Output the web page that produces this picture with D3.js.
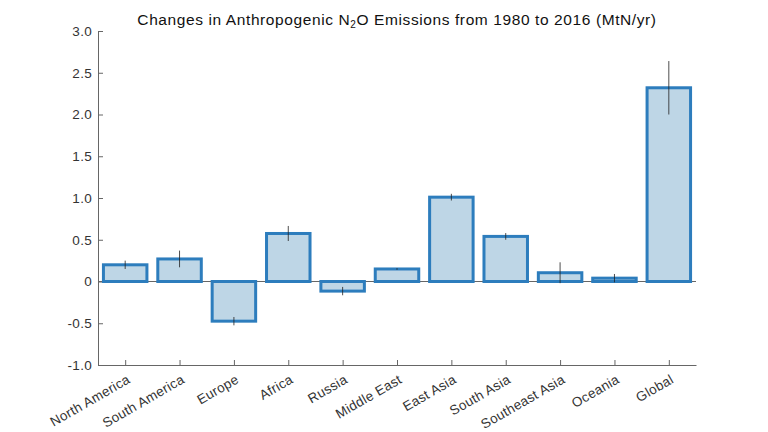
<!DOCTYPE html>
<html>
<head>
<meta charset="utf-8">
<script src="https://cdn.jsdelivr.net/npm/d3@7"></script>
<style>
  body { margin: 0; background: #fff; }
  text { font-family: "Liberation Sans", Arial, sans-serif; }
</style>
</head>
<body>
<svg id="chart" width="768" height="432"></svg>
<script>
const regions = ["North America", "South America", "Europe", "Africa", "Russia", "Middle East",
  "East Asia", "South Asia", "Southeast Asia", "Oceania", "Global"];
const changes = [0.2, 0.27, -0.475, 0.575, -0.115, 0.15, 1.01, 0.54, 0.105, 0.04, 2.32];
const errors = [0.05, 0.1, 0.05, 0.09, 0.05, 0.01, 0.04, 0.04, 0.125, 0.05, 0.32];
const yTicks = [-1.0, -0.5, 0, 0.5, 1.0, 1.5, 2.0, 2.5, 3.0];

const svg = d3.select("#chart");
const plotLeft = 98, plotRight = 696, plotTop = 31, plotBottom = 365;

const x = d3.scaleLinear().domain([0.5, regions.length + 0.5]).range([plotLeft, plotRight]);
const y = d3.scaleLinear().domain([-1, 3]).range([plotBottom, plotTop]);
const step = x(2) - x(1);
const barW = step * 0.8;

const axisColor = "#666";

// y axis
const yAxis = svg.append("g")
  .attr("transform", `translate(${plotLeft},0)`)
  .call(d3.axisLeft(y).tickValues(yTicks)
    .tickFormat((d) => (d === 0 ? "0" : d.toFixed(1)))
    .tickSizeInner(-5).tickSizeOuter(0).tickPadding(6));
yAxis.select(".domain").attr("stroke", axisColor);
yAxis.selectAll(".tick line").attr("stroke", axisColor);
yAxis.selectAll("text").attr("font-size", 13.5).attr("letter-spacing", 0.3).attr("fill", "#333");

// x axis
const xAxis = svg.append("g")
  .attr("transform", `translate(0,${plotBottom})`)
  .call(d3.axisBottom(x).tickValues(d3.range(1, regions.length + 1))
    .tickFormat((d) => regions[d - 1])
    .tickSizeInner(-5).tickSizeOuter(0));
xAxis.select(".domain").attr("stroke", axisColor);
xAxis.selectAll(".tick line").attr("stroke", axisColor);
xAxis.selectAll("text")
  .attr("font-size", 13.5).attr("letter-spacing", 0.3).attr("fill", "#333")
  .attr("text-anchor", "end")
  .attr("x", 0).attr("y", 0)
  .attr("dy", "0.35em")
  .attr("transform", "translate(3,13) rotate(-30)");

// zero baseline
svg.append("line")
  .attr("x1", plotLeft).attr("x2", plotRight)
  .attr("y1", y(0)).attr("y2", y(0))
  .attr("stroke", axisColor);

// bars
svg.selectAll(".bar")
  .data(changes)
  .enter()
  .append("rect")
  .attr("class", "bar")
  .attr("x", (d, i) => x(i + 1) - barW / 2)
  .attr("width", barW)
  .attr("y", (d) => y(Math.max(0, d)))
  .attr("height", (d) => Math.abs(y(d) - y(0)))
  .attr("fill", "#bed6e6")
  .attr("stroke", "#2d7dbd")
  .attr("stroke-width", 3);

// error bars
svg.selectAll(".err")
  .data(changes)
  .enter()
  .append("line")
  .attr("class", "err")
  .attr("x1", (d, i) => x(i + 1))
  .attr("x2", (d, i) => x(i + 1))
  .attr("y1", (d, i) => y(d - errors[i]))
  .attr("y2", (d, i) => y(d + errors[i]))
  .attr("stroke", "#222")
  .attr("stroke-opacity", 0.8)
  .attr("stroke-width", 1);

// title
const title = svg.append("text")
  .attr("x", (plotLeft + plotRight) / 2)
  .attr("y", 25)
  .attr("text-anchor", "middle")
  .attr("font-size", 15.5)
  .attr("letter-spacing", 0.6)
  .attr("fill", "#111");
title.append("tspan").text("Changes in Anthropogenic N");
title.append("tspan").attr("font-size", 10).attr("dy", 3).text("2");
title.append("tspan").attr("dy", -3).text("O Emissions from 1980 to 2016 (MtN/yr)");
</script>
</body>
</html>
